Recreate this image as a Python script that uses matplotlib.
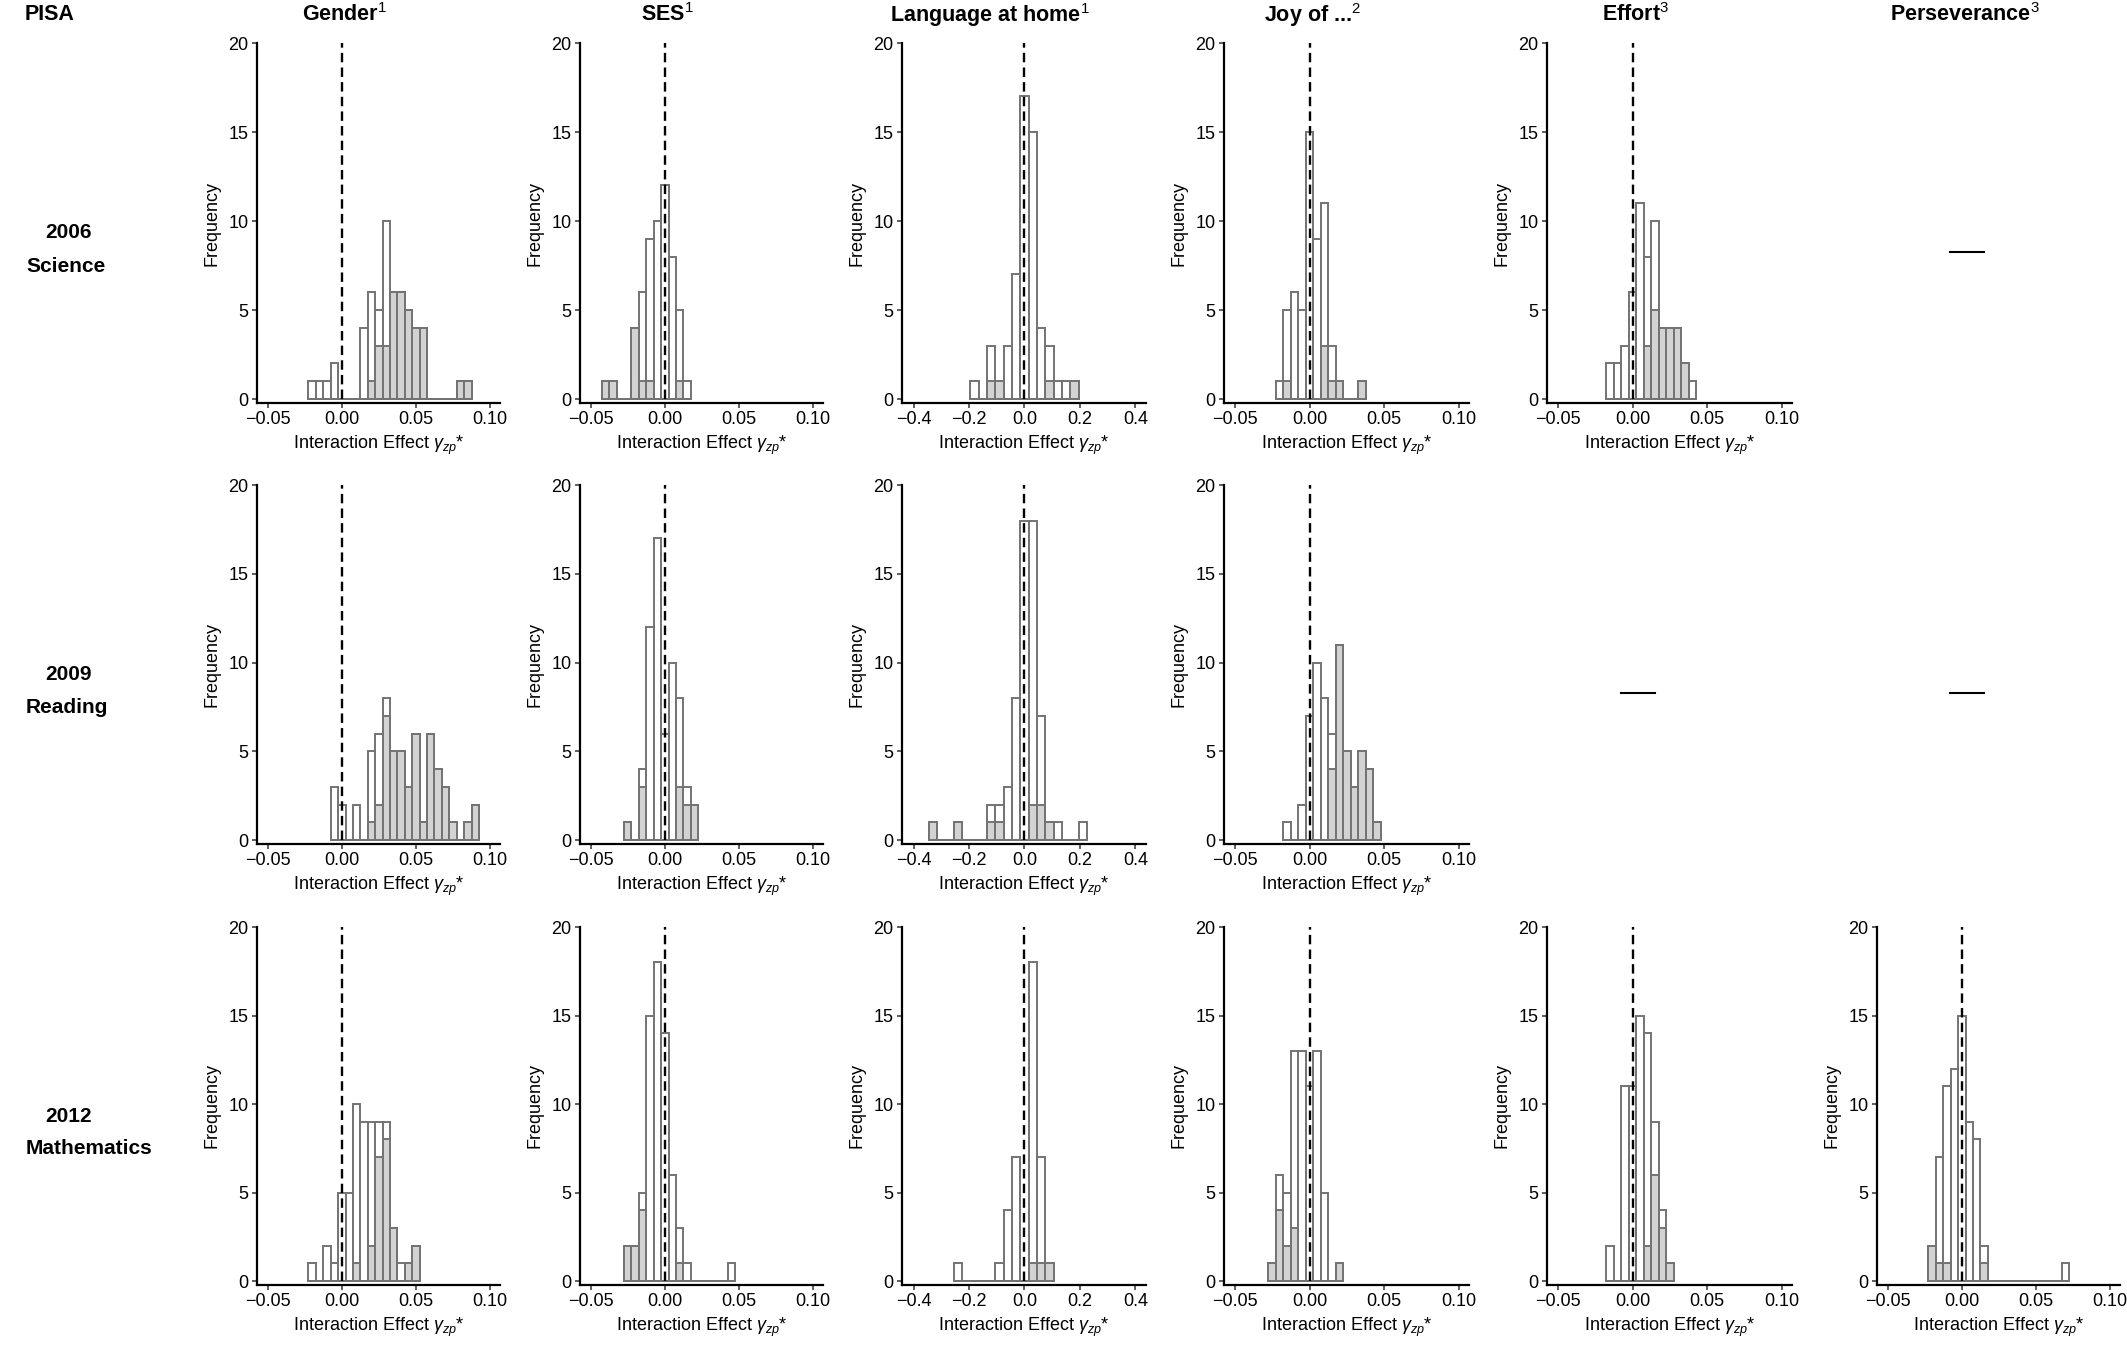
import matplotlib

matplotlib.use("Agg")
import matplotlib.pyplot as plt
import numpy as np
from matplotlib.lines import Line2D

plt.rcParams["font.family"] = ["Liberation Sans", "DejaVu Sans"]
plt.rcParams["mathtext.fontset"] = "custom"
plt.rcParams["mathtext.rm"] = "Liberation Sans"
plt.rcParams["mathtext.it"] = "Liberation Sans:italic"
plt.rcParams["mathtext.bf"] = "Liberation Sans:bold"

# ---- labels -------------------------------------------------------------
col_headers = [r"Gender$^1$", r"SES$^1$", r"Language at home$^1$",
               r"Joy of ...$^2$", r"Effort$^3$", r"Perseverance$^3$"]
row_years = ["2006", "2009", "2012"]
row_domains = ["Science", "Reading", "Mathematics"]

# ---- histogram counts (first bin centre, all countries, significant ones) ----
NARROW_BIN = 0.005
LANG_BIN = 0.03

sci_gender_start = -0.02
sci_gender_total = [1, 1, 1, 2, 0, 0, 0, 4, 6, 5, 10, 6, 6, 5, 4, 4, 0, 0, 0, 0, 1, 1]
sci_gender_sig = [0, 0, 0, 0, 0, 0, 0, 0, 1, 3, 3, 6, 6, 5, 4, 4, 0, 0, 0, 0, 1, 1]

sci_ses_start = -0.04
sci_ses_total = [1, 1, 0, 0, 4, 6, 9, 10, 12, 8, 5, 1]
sci_ses_sig = [1, 1, 0, 0, 4, 1, 1, 0, 0, 0, 1, 0]

sci_lang_start = -0.18
sci_lang_total = [1, 0, 3, 1, 3, 7, 17, 15, 4, 3, 1, 1, 1]
sci_lang_sig = [0, 0, 1, 1, 0, 0, 0, 0, 0, 1, 0, 0, 1]

sci_joy_start = -0.02
sci_joy_total = [1, 5, 6, 5, 15, 9, 11, 3, 1, 0, 0, 1]
sci_joy_sig = [0, 1, 0, 0, 0, 0, 3, 1, 1, 0, 0, 1]

sci_effort_start = -0.015
sci_effort_total = [2, 2, 3, 6, 11, 8, 10, 4, 4, 4, 2, 1]
sci_effort_sig = [0, 0, 0, 0, 0, 3, 5, 4, 4, 4, 2, 0]

rea_gender_start = -0.005
rea_gender_total = [3, 2, 0, 2, 0, 5, 6, 8, 5, 5, 3, 6, 1, 6, 4, 3, 1, 0, 1, 2]
rea_gender_sig = [0, 0, 0, 0, 0, 1, 2, 7, 5, 5, 3, 6, 1, 6, 4, 3, 1, 0, 1, 2]

rea_ses_start = -0.025
rea_ses_total = [1, 0, 4, 12, 17, 6, 10, 8, 3, 2]
rea_ses_sig = [1, 0, 3, 0, 0, 0, 0, 3, 2, 2]

rea_lang_start = -0.33
rea_lang_total = [1, 0, 0, 1, 0, 0, 0, 2, 2, 3, 8, 18, 18, 7, 1, 1, 0, 0, 1]
rea_lang_sig = [1, 0, 0, 1, 0, 0, 0, 1, 1, 0, 0, 0, 2, 2, 1, 0, 0, 0, 0]

rea_joy_start = -0.015
rea_joy_total = [1, 0, 2, 7, 10, 8, 6, 11, 5, 3, 5, 4, 1]
rea_joy_sig = [0, 0, 0, 0, 0, 0, 4, 11, 5, 3, 5, 4, 1]

mat_gender_start = -0.02
mat_gender_total = [1, 0, 2, 1, 5, 5, 10, 9, 9, 9, 9, 3, 1, 1, 2]
mat_gender_sig = [0, 0, 0, 0, 0, 0, 1, 0, 2, 7, 8, 3, 0, 1, 2]

mat_ses_start = -0.025
mat_ses_total = [2, 2, 5, 15, 18, 14, 6, 3, 1, 0, 0, 0, 0, 0, 1]
mat_ses_sig = [2, 2, 4, 0, 0, 0, 0, 1, 0, 0, 0, 0, 0, 0, 0]

mat_lang_start = -0.24
mat_lang_total = [1, 0, 0, 0, 0, 1, 4, 7, 0, 18, 7, 1]
mat_lang_sig = [0, 0, 0, 0, 0, 0, 0, 0, 0, 1, 1, 1]

mat_joy_start = -0.025
mat_joy_total = [1, 6, 5, 13, 13, 11, 13, 5, 0, 1]
mat_joy_sig = [1, 4, 2, 3, 0, 0, 0, 0, 0, 1]

mat_effort_start = -0.015
mat_effort_total = [2, 0, 11, 11, 15, 14, 9, 4, 1]
mat_effort_sig = [0, 0, 0, 0, 0, 2, 6, 3, 1]

mat_persev_start = -0.02
mat_persev_total = [2, 7, 11, 12, 15, 9, 8, 2, 0, 0, 0, 0, 0, 0, 0, 0, 0, 0, 1]
mat_persev_sig = [2, 1, 1, 0, 0, 0, 0, 1, 0, 0, 0, 0, 0, 0, 0, 0, 0, 0, 0]

# (row, col) -> panel; cells not listed here hold a "not available" dash
panels = {
    (0, 0): (sci_gender_start, sci_gender_total, sci_gender_sig),
    (0, 1): (sci_ses_start, sci_ses_total, sci_ses_sig),
    (0, 2): (sci_lang_start, sci_lang_total, sci_lang_sig),
    (0, 3): (sci_joy_start, sci_joy_total, sci_joy_sig),
    (0, 4): (sci_effort_start, sci_effort_total, sci_effort_sig),
    (1, 0): (rea_gender_start, rea_gender_total, rea_gender_sig),
    (1, 1): (rea_ses_start, rea_ses_total, rea_ses_sig),
    (1, 2): (rea_lang_start, rea_lang_total, rea_lang_sig),
    (1, 3): (rea_joy_start, rea_joy_total, rea_joy_sig),
    (2, 0): (mat_gender_start, mat_gender_total, mat_gender_sig),
    (2, 1): (mat_ses_start, mat_ses_total, mat_ses_sig),
    (2, 2): (mat_lang_start, mat_lang_total, mat_lang_sig),
    (2, 3): (mat_joy_start, mat_joy_total, mat_joy_sig),
    (2, 4): (mat_effort_start, mat_effort_total, mat_effort_sig),
    (2, 5): (mat_persev_start, mat_persev_total, mat_persev_sig),
}
missing = [(0, 5), (1, 4), (1, 5)]

# ---- layout (pixels) ----------------------------------------------------
W, H = 2127, 1357
col_left = [257, 580, 902, 1224, 1547, 1877]
col_width = [243, 243, 244, 245, 245, 243]
row_top = [43, 485, 927]
row_bottom = [403, 844, 1285]

EDGE = "#737373"
FILL = "#d3d3d3"

fig = plt.figure(figsize=(W / 100, H / 100), dpi=100)


def add_axes_px(left, top, width, height):
    return fig.add_axes([left / W, 1 - (top + height) / H, width / W, height / H])


for (r, c), (start, total, sig) in panels.items():
    ax = add_axes_px(col_left[c], row_top[r], col_width[c], row_bottom[r] - row_top[r])
    lang = c == 2
    bw = LANG_BIN if lang else NARROW_BIN
    total = np.asarray(total, dtype=float)
    sig = np.asarray(sig, dtype=float)
    centers = start + bw * np.arange(total.size)
    ax.bar(centers, total, width=bw, color="white", edgecolor=EDGE, linewidth=1.4, zorder=2)
    ax.bar(centers, sig, width=bw, color=FILL, edgecolor=EDGE, linewidth=1.4, zorder=3)
    ax.vlines(0, 0, 20, colors="black", linestyles=(0, (4, 2.2)), linewidth=1.7, zorder=4)

    if lang:
        ax.set_xlim(-0.442, 0.4385)
        ax.set_xticks([-0.4, -0.2, 0.0, 0.2, 0.4])
        ax.set_xticklabels(["\u22120.4", "\u22120.2", "0.0", "0.2", "0.4"])
    else:
        ax.set_xlim(-0.0572, 0.1067)
        ax.set_xticks([-0.05, 0.0, 0.05, 0.10])
        ax.set_xticklabels(["\u22120.05", "0.00", "0.05", "0.10"])
    ax.set_ylim(-0.22, 20)
    ax.set_yticks([0, 5, 10, 15, 20])

    for side in ("top", "right"):
        ax.spines[side].set_visible(False)
    for side in ("left", "bottom"):
        ax.spines[side].set_linewidth(1.6)
        ax.spines[side].set_color("black")
    ax.tick_params(axis="both", labelsize=13, length=3.5, width=1.1, color="#333333", pad=2.5)
    ax.set_ylabel("Frequency", fontsize=13, labelpad=6)
    ax.set_xlabel(r"Interaction Effect $\gamma_{zp}$*", fontsize=13, labelpad=4)
    ax.patch.set_alpha(0)

# "not available" dashes
for r, c in missing:
    cx = col_left[c] + col_width[c] * 0.37
    cy = (row_top[r] + row_bottom[r]) / 2 + 29
    fig.add_artist(Line2D([(cx - 17) / W, (cx + 17) / W], [1 - cy / H, 1 - cy / H],
                          color="black", linewidth=1.5))

# headers
fig.text(50 / W, 1 - 15 / H, "PISA", ha="center", va="center", fontsize=15.5, fontweight="bold")
for c, label in enumerate(col_headers):
    cx = col_left[c] + col_width[c] * 0.36
    fig.text(cx / W, 1 - 15 / H, label, ha="center", va="center", fontsize=15.5, fontweight="bold")

for r in range(3):
    mid = (row_top[r] + row_bottom[r]) / 2
    fig.text(69 / W, 1 - (mid + 10) / H, row_years[r], ha="center", va="center",
             fontsize=15, fontweight="bold")
    fig.text(26 / W, 1 - (mid + 43) / H, row_domains[r], ha="left", va="center",
             fontsize=15, fontweight="bold")

fig.savefig("out.png", dpi=100)
